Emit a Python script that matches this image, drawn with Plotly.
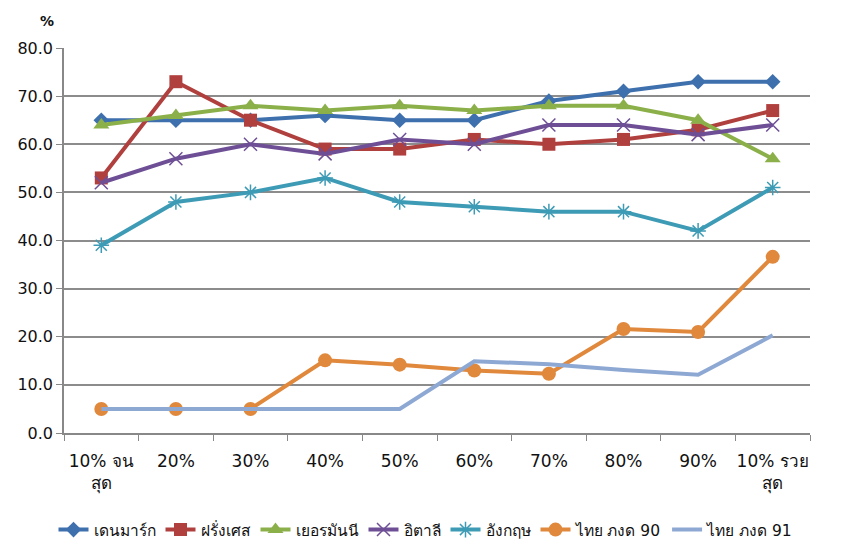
import plotly.graph_objects as go

categories = ["10% จน<br>สุด", "20%", "30%", "40%", "50%", "60%", "70%", "80%", "90%", "10% รวย<br>สุด"]

denmark = [65, 65, 65, 66, 65, 65, 69, 71, 73, 73]
france = [53, 73, 65, 59, 59, 61, 60, 61, 63, 67]
germany = [64, 66, 68, 67, 68, 67, 68, 68, 65, 57]
italy = [52, 57, 60, 58, 61, 60, 64, 64, 62, 64]
england = [39, 48, 50, 53, 48, 47, 46, 46, 42, 51]
thai_90 = [5.0, 5.0, 5.0, 15.1, 14.2, 13.0, 12.3, 21.6, 21.0, 36.6]
thai_91 = [5.0, 5.0, 5.0, 5.0, 5.0, 14.9, 14.3, 13.1, 12.1, 20.3]

series = [
    ("เดนมาร์ก", denmark, "#3F70AE", dict(symbol="diamond", size=12)),
    ("ฝรั่งเศส", france, "#B0403E", dict(symbol="square", size=13)),
    ("เยอรมันนี", germany, "#8BB04A", dict(symbol="triangle-up", size=14)),
    ("อิตาลี", italy, "#6E4F96", dict(symbol="x-thin", size=13, line=dict(width=1.5, color="#6E4F96"))),
    ("อังกฤษ", england, "#3E9BB5", dict(symbol="asterisk", size=13, line=dict(width=1.5, color="#3E9BB5"))),
    ("ไทย ภงด 90", thai_90, "#E0883C", dict(symbol="circle", size=14)),
    ("ไทย ภงด 91", thai_91, "#8EA8D4", None),
]

FONT = "Tahoma, Verdana, DejaVu Sans, Noto Sans, sans-serif"

fig = go.Figure()
for name, vals, color, marker in series:
    if marker is None:
        fig.add_trace(go.Scatter(x=categories, y=vals, name=name, mode="lines",
                                 line=dict(color=color, width=4)))
    else:
        m = dict(color=color, **marker)
        fig.add_trace(go.Scatter(x=categories, y=vals, name=name, mode="lines+markers",
                                 line=dict(color=color, width=4), marker=m))

fig.update_layout(
    width=853, height=547,
    margin=dict(l=64, r=43, t=48, b=114, autoexpand=False),
    paper_bgcolor="white", plot_bgcolor="white",
    font=dict(family=FONT, size=16, color="#111111"),
    showlegend=True,
    legend=dict(orientation="h", xref="container", x=0.5, xanchor="center",
                yref="container", y=0.0, yanchor="bottom",
                font=dict(size=15.5), itemwidth=30, tracegroupgap=0),
    annotations=[dict(text="<b>%</b>", xref="paper", yref="paper", x=-0.023, y=1.045,
                      xanchor="center", yanchor="bottom", showarrow=False,
                      font=dict(size=14, family=FONT))],
)
fig.update_xaxes(type="category", range=[-0.5, 9.5], showgrid=False, showline=True,
                 linecolor="#888888", linewidth=1.5,
                 ticks="outside", tickson="boundaries", ticklen=6, tickcolor="#888888",
                 tickfont=dict(size=17), tickangle=0, ticklabelstandoff=12,
                 zeroline=False, automargin=False)
fig.update_yaxes(range=[0, 80], dtick=10, tickformat=".1f", showgrid=True, gridcolor="#8C8C8C",
                 gridwidth=1.5, showline=True, linecolor="#888888", linewidth=1.5,
                 ticks="outside", ticklen=6, tickcolor="#888888", zeroline=False,
                 tickfont=dict(size=16), automargin=False)

fig.write_html("out.html")
